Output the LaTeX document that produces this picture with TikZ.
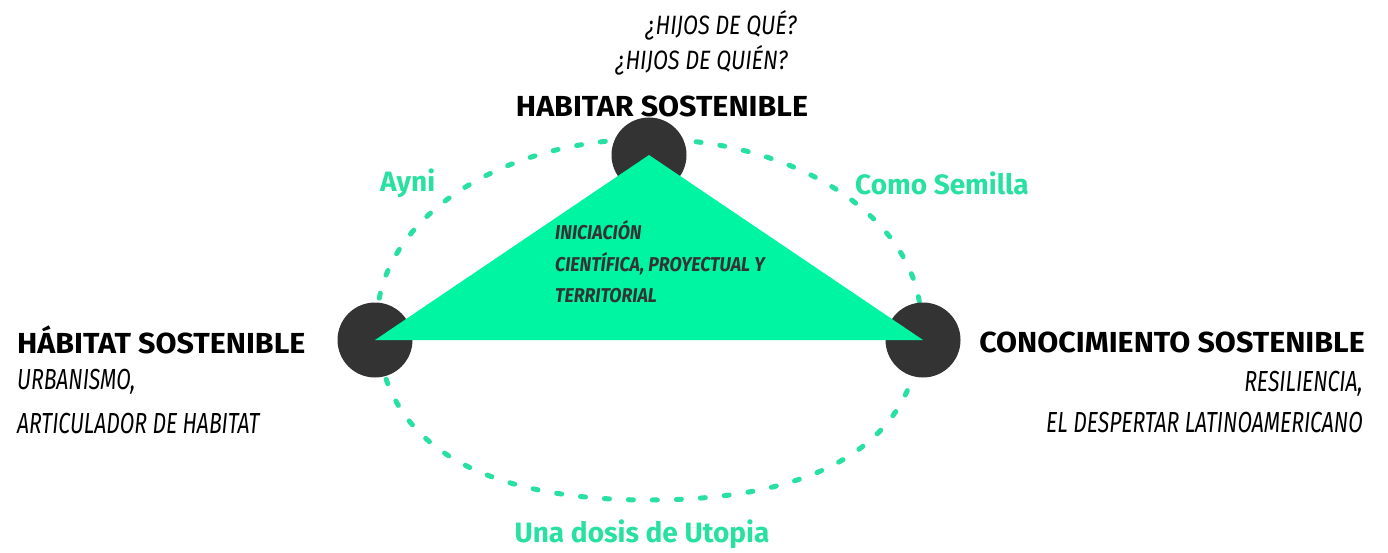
\documentclass[tikz,border=0pt]{standalone}
\usepackage{fontspec}
\setmainfont{Fira Sans}
\newfontfamily\titrefont[FakeStretch=1.05]{Fira Sans}
\newfontfamily\motfont[FakeStretch=1.0]{Fira Sans}
\newfontfamily\italfont[FakeStretch=0.73]{Fira Sans}
\newfontfamily\questfont[FakeStretch=0.82]{Fira Sans}
\newfontfamily\trifont[FakeStretch=0.89]{Fira Sans}

\definecolor{gris}{RGB}{51,51,51}
\definecolor{menthe}{RGB}{0,245,163}
\definecolor{vert}{RGB}{40,225,160}

\tikzset{
  rond/.style={circle, fill=gris, minimum size=75pt, inner sep=0pt},
  pointille/.style={vert, line width=5pt, line cap=round, dash pattern=on 5pt off 19pt},
  titre/.style={font=\titrefont\bfseries\fontsize{29}{31}\selectfont, inner sep=0pt},
  mot/.style={vert, font=\motfont\bfseries\fontsize{28}{30}\selectfont, inner sep=0pt},
  ital/.style={font=\italfont\itshape\fontsize{29}{31}\selectfont, inner sep=0pt},
  question/.style={font=\questfont\itshape\fontsize{26.5}{28}\selectfont, inner sep=0pt},
  tri/.style={gris, font=\trifont\bfseries\itshape\fontsize{20}{22}\selectfont, inner sep=0pt}
}

\begin{document}
\begin{tikzpicture}[x=1pt, y=-1pt]
\useasboundingbox (0,0) rectangle (1388,553);

%% le pointillé autour
\draw[pointille] (377,322) .. controls (377,221) and (499,139) .. (649,139)
  .. controls (799,139) and (921,221) .. (921,322)
  .. controls (921,438) and (826,500) .. (649,500)
  .. controls (472,500) and (377,438) .. (377,322);

%% les trois ronds
\node[rond] (haut) at (649,155) {};
\node[rond] (gauche) at (375,340) {};
\node[rond] (droite) at (923,340) {};

%% le triangle
\fill[menthe] (haut.center) -- (gauche.center) -- (droite.center) -- cycle;

%% en haut
\node[question, anchor=base east] (quoi) at (797,35) {¿HIJOS DE QUÉ?};
\node[question, anchor=base east] (qui) at (788,70) {¿HIJOS DE QUIÉN?};
\node[titre, anchor=base] (habitar) at (662,117) {HABITAR SOSTENIBLE};

%% les mots verts
\node[mot, anchor=base west] (ayni) at (380,192) {Ayni};
\node[mot, anchor=base west] (semilla) at (855,195) {Como Semilla};
\node[mot, anchor=base] (utopia) at (642,542) {Una dosis de Utopia};

%% dans le triangle
\node[tri, anchor=base west] (ini) at (555,240) {INICIACIÓN};
\node[tri, anchor=base west] (cien) at (555,271) {CIENTÍFICA, PROYECTUAL Y};
\node[tri, anchor=base west] (terr) at (555,302) {TERRITORIAL};

%% à gauche
\node[titre, anchor=base west] (habitat) at (17,353) {HÁBITAT SOSTENIBLE};
\node[ital, anchor=base west] (urba) at (17,389) {URBANISMO,};
\node[ital, anchor=base west] (arti) at (17,433) {ARTICULADOR DE HABITAT};

%% à droite
\node[titre, anchor=base east] (conoc) at (1365,352) {CONOCIMIENTO SOSTENIBLE};
\node[ital, anchor=base east] (resil) at (1363,391) {RESILIENCIA,};
\node[ital, anchor=base east] (desp) at (1363,432) {EL DESPERTAR LATINOAMERICANO};

\end{tikzpicture}
\end{document}
